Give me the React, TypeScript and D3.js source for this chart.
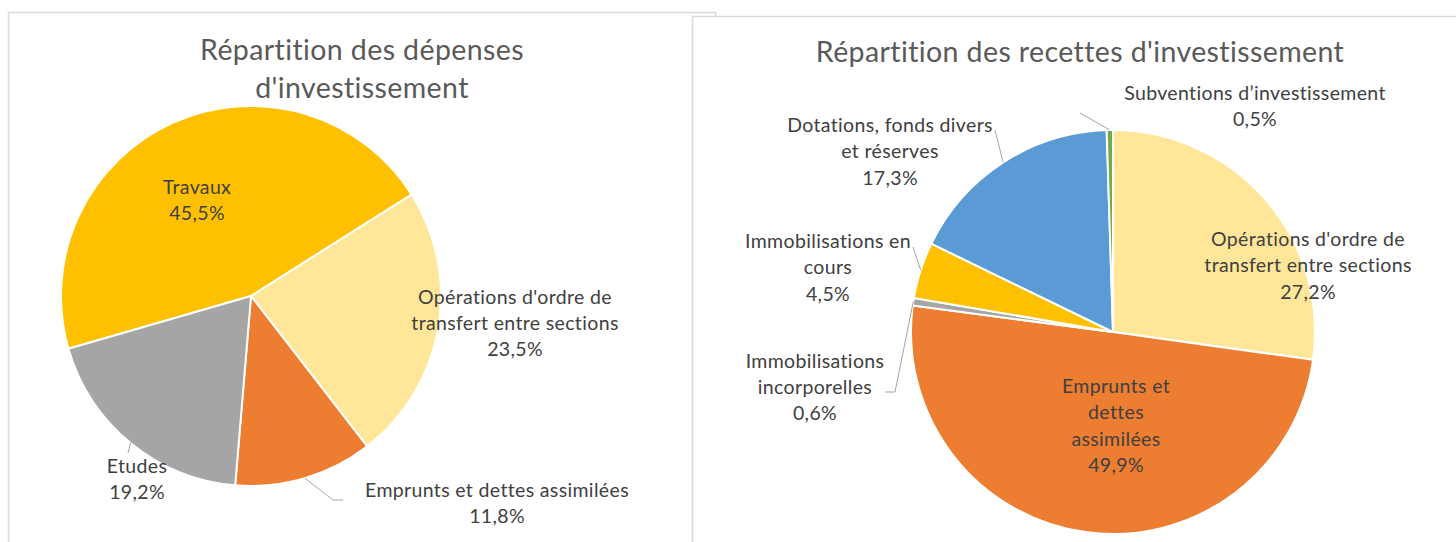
import React from "react";
import * as d3 from "d3";

// ---------- data ----------
const leftTitle = ["Répartition des dépenses", "d'investissement"];
const leftCategories = ["Travaux", "Opérations d'ordre de transfert entre sections", "Emprunts et dettes assimilées", "Etudes"];
const leftValues = [45.5, 23.5, 11.8, 19.2];

const rightTitle = ["Répartition des recettes d'investissement"];
const rightCategories = [
  "Opérations d'ordre de transfert entre sections",
  "Emprunts et dettes assimilées",
  "Immobilisations incorporelles",
  "Immobilisations en cours",
  "Dotations, fonds divers et réserves",
  "Subventions d’investissement",
];
const rightValues = [27.2, 49.9, 0.6, 4.5, 17.3, 0.5];

// ---------- layout / style ----------
const leftColors = ["#FFC000", "#FFE699", "#ED7D31", "#A5A5A5"];
const rightColors = ["#FFE699", "#ED7D31", "#A5A5A5", "#FFC000", "#5B9BD5", "#70AD47"];

const leftLabelLines = [
  ["Travaux"],
  ["Opérations d'ordre de", "transfert entre sections"],
  ["Emprunts et dettes assimilées"],
  ["Etudes"],
];
const leftLabelPos = [
  { x: 197, y: 186, dy: 26 },
  { x: 515, y: 296, dy: 26 },
  { x: 497, y: 489, dy: 26 },
  { x: 137, y: 465, dy: 26 },
];
const leftLeaders: (number[][] | null)[] = [null, null, [[333, 500], [343, 500]], [[128, 453]]];

const rightLabelLines = [
  ["Opérations d'ordre de", "transfert entre sections"],
  ["Emprunts et", "dettes", "assimilées"],
  ["Immobilisations", "incorporelles"],
  ["Immobilisations en", "cours"],
  ["Dotations, fonds divers", "et réserves"],
  ["Subventions d’investissement"],
];
const rightLabelPos = [
  { x: 1308, y: 238, dy: 26.5 },
  { x: 1116, y: 385, dy: 26.5 },
  { x: 815, y: 360, dy: 26 },
  { x: 828, y: 240, dy: 26.5 },
  { x: 890, y: 124, dy: 26.5 },
  { x: 1255, y: 92, dy: 26 },
];
const rightLeaders: (number[][] | null)[] = [
  null,
  null,
  [[895, 392], [885, 392]],
  [[913, 247]],
  [[995, 130]],
  [[1080, 113]],
];

const FONT = "Lato, 'Open Sans', sans-serif";
const fmt = (v: number) => v.toFixed(1).replace(".", ",") + "%";

type PieProps = {
  cx: number;
  cy: number;
  r: number;
  values: number[];
  colors: string[];
  startDeg: number;
  lines: string[][];
  pos: { x: number; y: number; dy: number }[];
  leaders: (number[][] | null)[];
  categories: string[];
};

function Pie({ cx, cy, r, values, colors, startDeg, lines, pos, leaders, categories }: PieProps) {
  const start = (startDeg * Math.PI) / 180;
  const pie = d3
    .pie<number>()
    .sort(null)
    .value((d) => d)
    .startAngle(start)
    .endAngle(start + 2 * Math.PI);
  const arcs = pie(values);
  const arc = d3.arc<d3.PieArcDatum<number>>().innerRadius(0).outerRadius(r);
  return (
    <g>
      <g transform={`translate(${cx},${cy})`}>
        {arcs.map((a, i) => (
          <path key={categories[i]} d={arc(a) || ""} fill={colors[i]} stroke="#fff" strokeWidth={2} strokeLinejoin="round" />
        ))}
      </g>
      {arcs.map((a, i) => {
        const L = leaders[i];
        if (!L) return null;
        const mid = (a.startAngle + a.endAngle) / 2;
        const sx = cx + r * Math.sin(mid);
        const sy = cy - r * Math.cos(mid);
        const pts = [[sx, sy], ...L];
        const line = d3.line()(pts as [number, number][]);
        return <path key={"l" + i} d={line || ""} fill="none" stroke="#A6A6A6" strokeWidth={1} />;
      })}
      {arcs.map((a, i) => {
        const p = pos[i];
        const all = [...lines[i], fmt(values[i])];
        return (
          <text key={"t" + i} fontFamily={FONT} fontSize={19.5} letterSpacing={0.35} fill="#404040" textAnchor="middle">
            {all.map((s, j) => (
              <tspan key={j} x={p.x} y={p.y + j * p.dy} dominantBaseline="central">
                {s}
              </tspan>
            ))}
          </text>
        );
      })}
    </g>
  );
}

export default function App() {
  return (
    <svg width={1456} height={542} style={{ position: "absolute", left: 0, top: 0, background: "#fff" }}>
      <rect x={0} y={0} width={1456} height={542} fill="#fff" />
      {/* left panel */}
      <rect x={8.5} y={12.5} width={707} height={560} fill="#fff" stroke="#D9D9D9" strokeWidth={1.5} />
      <text fontFamily={FONT} fontSize={28.5} letterSpacing={0.4} fill="#595959" textAnchor="middle">
        {leftTitle.map((s, j) => (
          <tspan key={j} x={362} y={49 + j * 38} dominantBaseline="central">
            {s}
          </tspan>
        ))}
      </text>
      <Pie
        cx={251}
        cy={296}
        r={190}
        values={leftValues}
        colors={leftColors}
        startDeg={-106.1}
        lines={leftLabelLines}
        pos={leftLabelPos}
        leaders={leftLeaders}
        categories={leftCategories}
      />
      {/* right panel */}
      <rect x={692.5} y={16.5} width={800} height={560} fill="#fff" stroke="#D9D9D9" strokeWidth={1.5} />
      <text fontFamily={FONT} fontSize={28.5} letterSpacing={0.4} fill="#595959" textAnchor="middle">
        {rightTitle.map((s, j) => (
          <tspan key={j} x={1080} y={51 + j * 38} dominantBaseline="central">
            {s}
          </tspan>
        ))}
      </text>
      <Pie
        cx={1113}
        cy={332}
        r={202}
        values={rightValues}
        colors={rightColors}
        startDeg={0}
        lines={rightLabelLines}
        pos={rightLabelPos}
        leaders={rightLeaders}
        categories={rightCategories}
      />
    </svg>
  );
}
